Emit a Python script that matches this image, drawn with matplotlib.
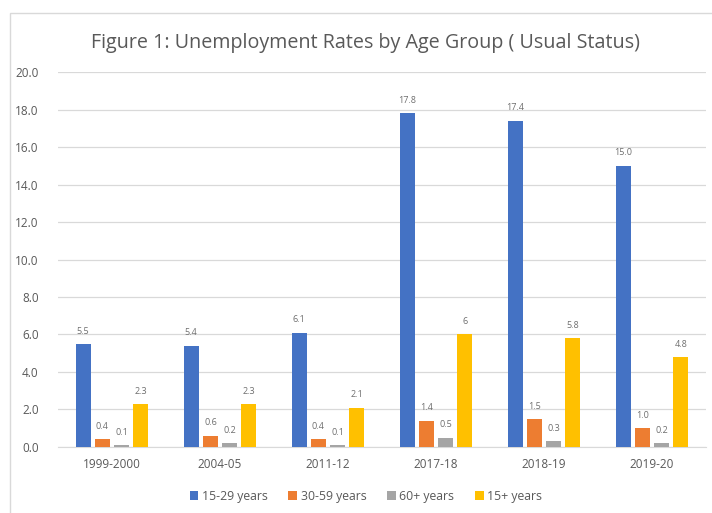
import matplotlib.pyplot as plt
from matplotlib.patches import Rectangle
import numpy as np

plt.rcParams['font.family'] = ['Open Sans', 'DejaVu Sans']

years = ["1999-2000", "2004-05", "2011-12", "2017-18", "2018-19", "2019-20"]
series_names = ["15-29 years", "30-59 years", "60+ years", "15+ years"]
young = [5.5, 5.4, 6.1, 17.8, 17.4, 15.0]
middle = [0.4, 0.6, 0.4, 1.4, 1.5, 1.0]
older = [0.1, 0.2, 0.1, 0.5, 0.3, 0.2]
overall = [2.3, 2.3, 2.1, 6.0, 5.8, 4.8]
young_labels = ["5.5", "5.4", "6.1", "17.8", "17.4", "15.0"]
middle_labels = ["0.4", "0.6", "0.4", "1.4", "1.5", "1.0"]
older_labels = ["0.1", "0.2", "0.1", "0.5", "0.3", "0.2"]
overall_labels = ["2.3", "2.3", "2.1", "6", "5.8", "4.8"]

colors = ["#4472C4", "#ED7D31", "#A5A5A5", "#FFC000"]
grey = "#595959"

fig = plt.figure(figsize=(7.12, 5.13), dpi=100)
fig.patches.append(Rectangle((10 / 712, -0.02), 1.0, 0.9747 + 0.02,
                             transform=fig.transFigure, fill=False,
                             edgecolor="#D9D9D9", linewidth=1))
ax = fig.add_axes([0.0815, 0.1287, 0.9101, 0.7309])

x = np.arange(len(years))
step = 0.178
width = 0.14
all_vals = [young, middle, older, overall]
all_labels = [young_labels, middle_labels, older_labels, overall_labels]
for i, (vals, labs) in enumerate(zip(all_vals, all_labels)):
    pos = x + (i - 1.5) * step
    ax.bar(pos, vals, width=width, color=colors[i], label=series_names[i], zorder=3)
    for p, v, t in zip(pos, vals, labs):
        ax.annotate(t, (p, v), xytext=(0, 6), textcoords="offset points",
                    ha="center", va="bottom", fontsize=6.5, color="#6e6e6e")

ax.set_xlim(-0.5, len(years) - 0.5)
ax.set_ylim(0, 20)
ax.set_yticks(np.arange(0, 20.1, 2))
ax.set_yticklabels([f"{v:.1f}" for v in np.arange(0, 20.1, 2)])
ax.set_xticks(x)
ax.set_xticklabels(years)
ax.tick_params(length=0, labelsize=8.5, colors=grey)
ax.tick_params(axis="y", pad=14)
ax.tick_params(axis="x", pad=8)
ax.grid(axis="y", color="#D9D9D9", linewidth=0.9, zorder=0)
for s in ["top", "right", "left"]:
    ax.spines[s].set_visible(False)
ax.spines["bottom"].set_color("#D9D9D9")

fig.text(0.514, 0.916, "Figure 1: Unemployment Rates by Age Group ( Usual Status)",
         ha="center", va="center", fontsize=14.2, color=grey)
fig.legend(loc="center", bbox_to_anchor=(0.514, 0.033), ncol=4, frameon=False,
           fontsize=8.8, handlelength=0.7, handleheight=0.7, handletextpad=0.3,
           columnspacing=1.7, labelcolor=grey)

fig.savefig("out.png", dpi=100)
